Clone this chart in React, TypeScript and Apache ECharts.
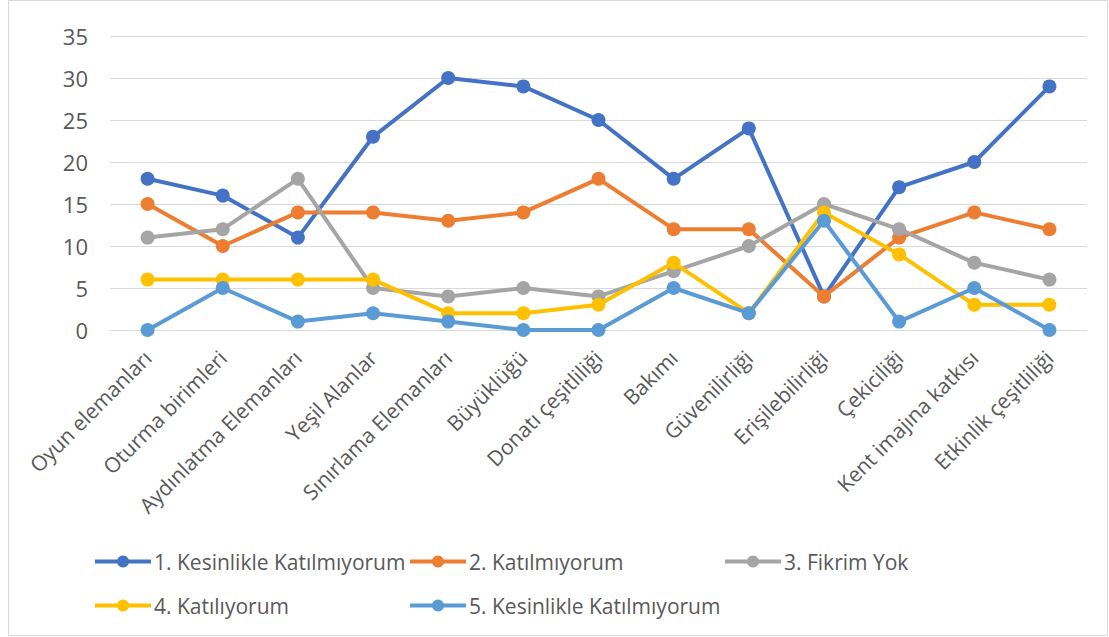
import React, { useEffect, useRef } from "react";
import * as echarts from "echarts";

const categories = [
  "Oyun elemanları",
  "Oturma birimleri",
  "Aydınlatma Elemanları",
  "Yeşil Alanlar",
  "Sınırlama Elemanları",
  "Büyüklüğü",
  "Donatı çeşitliliği",
  "Bakımı",
  "Güvenilirliği",
  "Erişilebilirliği",
  "Çekiciliği",
  "Kent imajına katkısı",
  "Etkinlik çeşitliliği",
];

const seriesNames = [
  "1. Kesinlikle Katılmıyorum",
  "2. Katılmıyorum",
  "3. Fikrim Yok",
  "4. Katılıyorum",
  "5. Kesinlikle Katılmıyorum",
];

const s1 = [18, 16, 11, 23, 30, 29, 25, 18, 24, 4, 17, 20, 29];
const s2 = [15, 10, 14, 14, 13, 14, 18, 12, 12, 4, 11, 14, 12];
const s3 = [11, 12, 18, 5, 4, 5, 4, 7, 10, 15, 12, 8, 6];
const s4 = [6, 6, 6, 6, 2, 2, 3, 8, 2, 14, 9, 3, 3];
const s5 = [0, 5, 1, 2, 1, 0, 0, 5, 2, 13, 1, 5, 0];

const seriesValues = [s1, s2, s3, s4, s5];
const colors = ["#4472C4", "#ED7D31", "#A5A5A5", "#FFC000", "#5B9BD5"];

const legendPos = [
  { left: 88, top: 546 },
  { left: 403, top: 546 },
  { left: 718, top: 546 },
  { left: 88, top: 590 },
  { left: 403, top: 590 },
];

const FONT = "'Open Sans', 'Noto Sans', sans-serif";

export default function App() {
  const ref = useRef<HTMLDivElement>(null);
  useEffect(() => {
    const chart = echarts.init(ref.current!, undefined, { renderer: "svg" });
    chart.setOption({
      animation: false,
      backgroundColor: "#ffffff",
      textStyle: { fontFamily: FONT },
      graphic: [
        {
          type: "rect",
          shape: { x: 8.5, y: 0.5, width: 1099, height: 635, r: 0 },
          style: { fill: "none", stroke: "#d9d9d9", lineWidth: 1 },
          silent: true,
        },
      ],
      grid: { left: 110, right: 22, top: 36, bottom: 307, containLabel: false },
      xAxis: {
        type: "category",
        data: categories,
        boundaryGap: true,
        axisLine: { show: true, lineStyle: { color: "#d9d9d9", width: 1 } },
        axisTick: { show: false },
        axisLabel: {
          rotate: 45,
          color: "#595959",
          fontSize: 21,
          fontFamily: FONT,
          margin: 24,
          interval: 0,
        },
      },
      yAxis: {
        type: "value",
        min: 0,
        max: 35,
        interval: 5,
        axisLine: { show: false },
        axisTick: { show: false },
        splitLine: { lineStyle: { color: "#d9d9d9", width: 1 } },
        axisLabel: { color: "#595959", fontSize: 22, fontFamily: FONT, margin: 22 },
      },
      legend: legendPos.map((p, i) => ({
        data: [seriesNames[i]],
        left: p.left,
        top: p.top,
        itemWidth: 56,
        itemHeight: 15,
        itemGap: 4,
        lineStyle: { width: 4 },
        textStyle: { color: "#595959", fontSize: 21, fontFamily: FONT, padding: [0, 0, 0, -2] },
      })),
      series: seriesValues.map((vals, i) => ({
        name: seriesNames[i],
        type: "line",
        data: vals,
        color: colors[i],
        symbol: "circle",
        symbolSize: 14,
        lineStyle: { width: 4, color: colors[i] },
        itemStyle: { color: colors[i] },
        z: 2 + i,
      })),
    });
    return () => chart.dispose();
  }, []);
  return (
    <div
      ref={ref}
      style={{ position: "absolute", left: 0, top: 0, width: 1109, height: 637 }}
    />
  );
}
